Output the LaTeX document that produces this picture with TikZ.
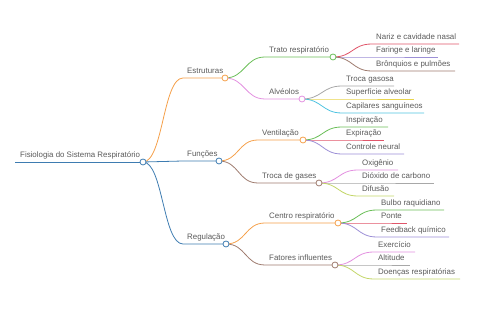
\documentclass[tikz,border=0pt]{standalone}
\usepackage{fontspec}
\setmainfont{Liberation Sans}
\usetikzlibrary{backgrounds}

\definecolor{cblue}{HTML}{3E7CB1}
\definecolor{corange}{HTML}{F5A04A}
\definecolor{cgreen}{HTML}{6BBF59}
\definecolor{cpink}{HTML}{E391E0}
\definecolor{cbrown}{HTML}{9E7B6E}
\definecolor{cred}{HTML}{E0566A}
\definecolor{cviolet}{HTML}{9C8FD6}
\definecolor{cgray}{HTML}{A8A8A8}
\definecolor{cyellow}{HTML}{E8D44D}
\definecolor{ccyan}{HTML}{4FC3E0}
\definecolor{clime}{HTML}{C3D669}
\definecolor{txtgray}{HTML}{5A5A5A}

\tikzset{
  lbl/.style={anchor=base west, inner sep=0pt, text=txtgray,
    font=\fontsize{7.9}{9}\selectfont},
  dot/.style={circle, draw=#1, fill=white, line width=0.8pt,
    inner sep=0pt, minimum size=6pt},
  branch/.style={line width=0.8pt, #1},
}

\begin{document}
\begin{tikzpicture}[x=1pt,y=-1pt]
    \useasboundingbox (0,0) rectangle (480,320);
    % Root
    \node[dot=cblue] (root) at (143,162) {};
    \node[lbl] (root-t) at (20,158) {Fisiologia do Sistema Respiratório};
    \coordinate (root-s) at (15,162);
    \begin{scope}[on background layer]
        \draw[branch=cblue] (root-s) -- (root.center);
    \end{scope}
    % First level
    \foreach \n/\t/\y/\e/\c in {estr/Estruturas/78/225/corange,
                                func/Funções/161/219/cblue,
                                reg/Regulação/244/226/cblue}{
        \node[dot=\c] (\n) at (\e,\y) {};
        \node[lbl] (\n-t) at (187,\y-4) {\t};
        \begin{scope}[on background layer]
            \draw[branch=\c] (root.center) .. controls (163,162) and (163,\y)
                .. (183,\y) -- (\n.center);
        \end{scope}
    }
    % Second level
    \foreach \p/\px/\py/\xs/\n/\t/\y/\e/\c in {
            estr/225/78/265/trato/Trato respiratório/57/333/cgreen,
            estr/225/78/265/alv/Alvéolos/99/302/cpink,
            func/219/161/258/vent/Ventilação/140/303/corange,
            func/219/161/258/troca/Troca de gases/183/319/cbrown,
            reg/226/244/265/centro/Centro respiratório/223/338/corange,
            reg/226/244/265/fat/Fatores influentes/265/335/cbrown}{
        \node[dot=\c] (\n) at (\e,\y) {};
        \node[lbl] (\n-t) at (\xs+4,\y-4) {\t};
        \begin{scope}[on background layer]
            \draw[branch=\c] (\p.center) .. controls (\px+20,\py) and (\xs-20,\y)
                .. (\xs,\y) -- (\n.center);
        \end{scope}
    }
    % Leaves
    \foreach \p/\px/\py/\xs/\n/\t/\y/\e/\c in {
            trato/333/57/372/nariz/Nariz e cavidade nasal/44/459/cred,
            trato/333/57/372/faringe/Faringe e laringe/57/438/cviolet,
            trato/333/57/372/bronq/Brônquios e pulmões/71/455/cbrown,
            alv/302/99/342/trocag/Troca gasosa/86/394/cgray,
            alv/302/99/342/superf/Superfície alveolar/99/414/cyellow,
            alv/302/99/342/capil/Capilares sanguíneos/113/424/ccyan,
            vent/303/140/342/insp/Inspiração/127/388/cgreen,
            vent/303/140/342/exp/Expiração/140/384/cred,
            vent/303/140/342/ctrl/Controle neural/154/404/cviolet,
            troca/319/183/358/oxi/Oxigênio/170/398/cpink,
            troca/319/183/358/diox/Dióxido de carbono/183/434/cgray,
            troca/319/183/358/difu/Difusão/196/394/clime,
            centro/338/223/377/bulbo/Bulbo raquidiano/210/444/cgreen,
            centro/338/223/377/ponte/Ponte/223/407/cred,
            centro/338/223/377/feed/Feedback químico/237/449/cviolet,
            fat/335/265/374/exer/Exercício/252/415/cpink,
            fat/335/265/374/alti/Altitude/265/410/cgray,
            fat/335/265/374/doen/Doenças respiratórias/279/460/clime}{
        \coordinate (\n) at (\e,\y);
        \node[lbl] (\n-t) at (\xs+4,\y-4) {\t};
        \begin{scope}[on background layer]
            \draw[branch=\c] (\p.center) .. controls (\px+20,\py) and (\xs-20,\y)
                .. (\xs,\y) -- (\n);
        \end{scope}
    }
\end{tikzpicture}
\end{document}
